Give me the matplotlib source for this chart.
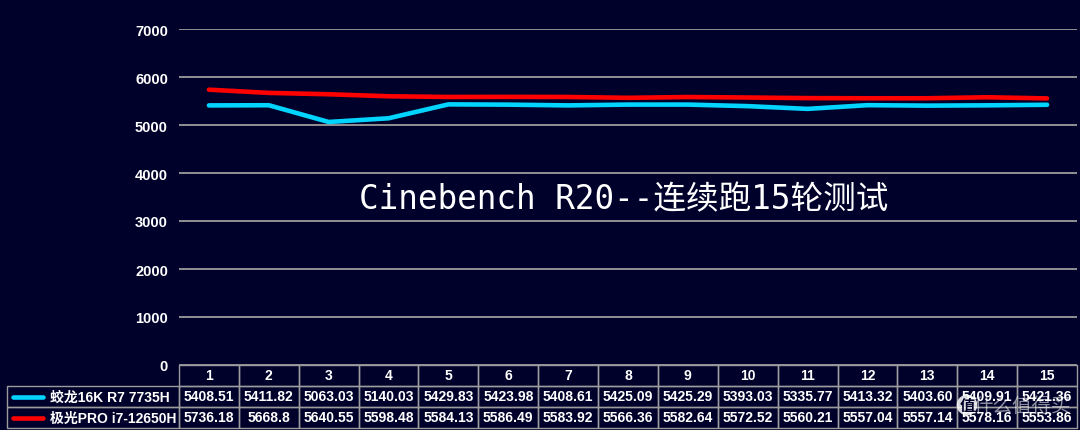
import matplotlib.pyplot as plt
from matplotlib.lines import Line2D

# data
rounds = list(range(1, 16))
jiaolong_name = "蛟龙16K R7 7735H"
jiaolong_txt = ["5408.51", "5411.82", "5063.03", "5140.03", "5429.83", "5423.98", "5408.61", "5425.09",
                "5425.29", "5393.03", "5335.77", "5413.32", "5403.60", "5409.91", "5421.36"]
jiguang_name = "极光PRO i7-12650H"
jiguang_txt = ["5736.18", "5668.8", "5640.55", "5598.48", "5584.13", "5586.49", "5583.92", "5566.36",
               "5582.64", "5572.52", "5560.21", "5557.04", "5557.14", "5578.16", "5553.86"]
jiaolong = [float(v) for v in jiaolong_txt]
jiguang = [float(v) for v in jiguang_txt]
yticks = [0, 1000, 2000, 3000, 4000, 5000, 6000, 7000]
title = "Cinebench R20--连续跑15轮测试"

bg = "#00012a"
cyan = "#00d4ff"
red = "#ff0000"
grid = "#9c9c9c"
fonts = ["Liberation Sans", "Noto Sans CJK SC"]

W, H = 1080, 431
fig = plt.figure(figsize=(W / 100, H / 100), dpi=100, facecolor=bg)
# axes in pixel layout: x 179..1077, y 30..366
ax = fig.add_axes([179 / W, (H - 366) / H, 898 / W, 336 / H])
ax.set_facecolor(bg)

ax.plot(rounds, jiaolong, color=cyan, lw=3.3, solid_capstyle="round", solid_joinstyle="round", zorder=3)
ax.plot(rounds, jiguang, color=red, lw=3.3, solid_capstyle="round", solid_joinstyle="round", zorder=3)

ax.set_xlim(0.5, 15.5)
ax.set_ylim(0, 7000)
ax.set_yticks(yticks)
ax.set_yticklabels([str(t) for t in yticks], family=fonts, fontweight="bold", fontsize=10.5, color="white")
ax.set_xticks([])
ax.tick_params(axis="y", length=0, pad=8)
ax.grid(axis="y", color=grid, lw=1.3)
for s in ax.spines.values():
    s.set_visible(False)

ax.text(0.4955, 0.494, title, transform=ax.transAxes, ha="center", va="center", color="white",
        fontsize=23.5, family=["DejaVu Sans Mono", "Noto Sans CJK SC"])

# data table under the plot
lab_w = 172 / 898
tbl = ax.table(cellText=[[""] + jiaolong_txt, [""] + jiguang_txt],
               colLabels=[""] + [str(r) for r in rounds],
               colWidths=[lab_w] + [1 / 15] * 15,
               cellLoc="center",
               bbox=[-lab_w, -63 / 336, 1 + lab_w, 63 / 336])
tbl.auto_set_font_size(False)
for (r, c), cell in tbl.get_celld().items():
    cell.set_facecolor("none")
    cell.set_edgecolor(grid)
    cell.set_linewidth(1)
    cell.get_text().set_color("white")
    cell.get_text().set_fontweight("bold")
    cell.get_text().set_fontsize(10)
    cell.get_text().set_family(fonts)
    if r == 0 and c == 0:
        cell.visible_edges = ""

# row labels with legend keys
for name, col, yc in [(jiaolong_name, cyan, -31.5 / 336), (jiguang_name, red, -52.5 / 336)]:
    ax.add_line(Line2D([-166 / 898, -136 / 898], [yc, yc], transform=ax.transAxes, color=col, lw=3.3,
                       solid_capstyle="round", clip_on=False))
    ax.text(-129 / 898, yc, name, transform=ax.transAxes, ha="left", va="center", color="white",
            fontsize=10, fontweight="bold", family=fonts, clip_on=False)

# watermark
fig.text(967 / W, 1 - 406 / H, "值", ha="center", va="center", color=bg, fontsize=11,
         fontweight="bold", family="Noto Sans CJK SC",
         bbox=dict(boxstyle="circle,pad=0.15", fc="white", ec="none", alpha=0.85))
fig.text(1022 / W, 1 - 406 / H, "什么值得买", ha="center", va="center", color="white", alpha=0.55,
         fontsize=14, family="Noto Sans CJK SC")

fig.savefig("out.png", dpi=100, facecolor=bg)
